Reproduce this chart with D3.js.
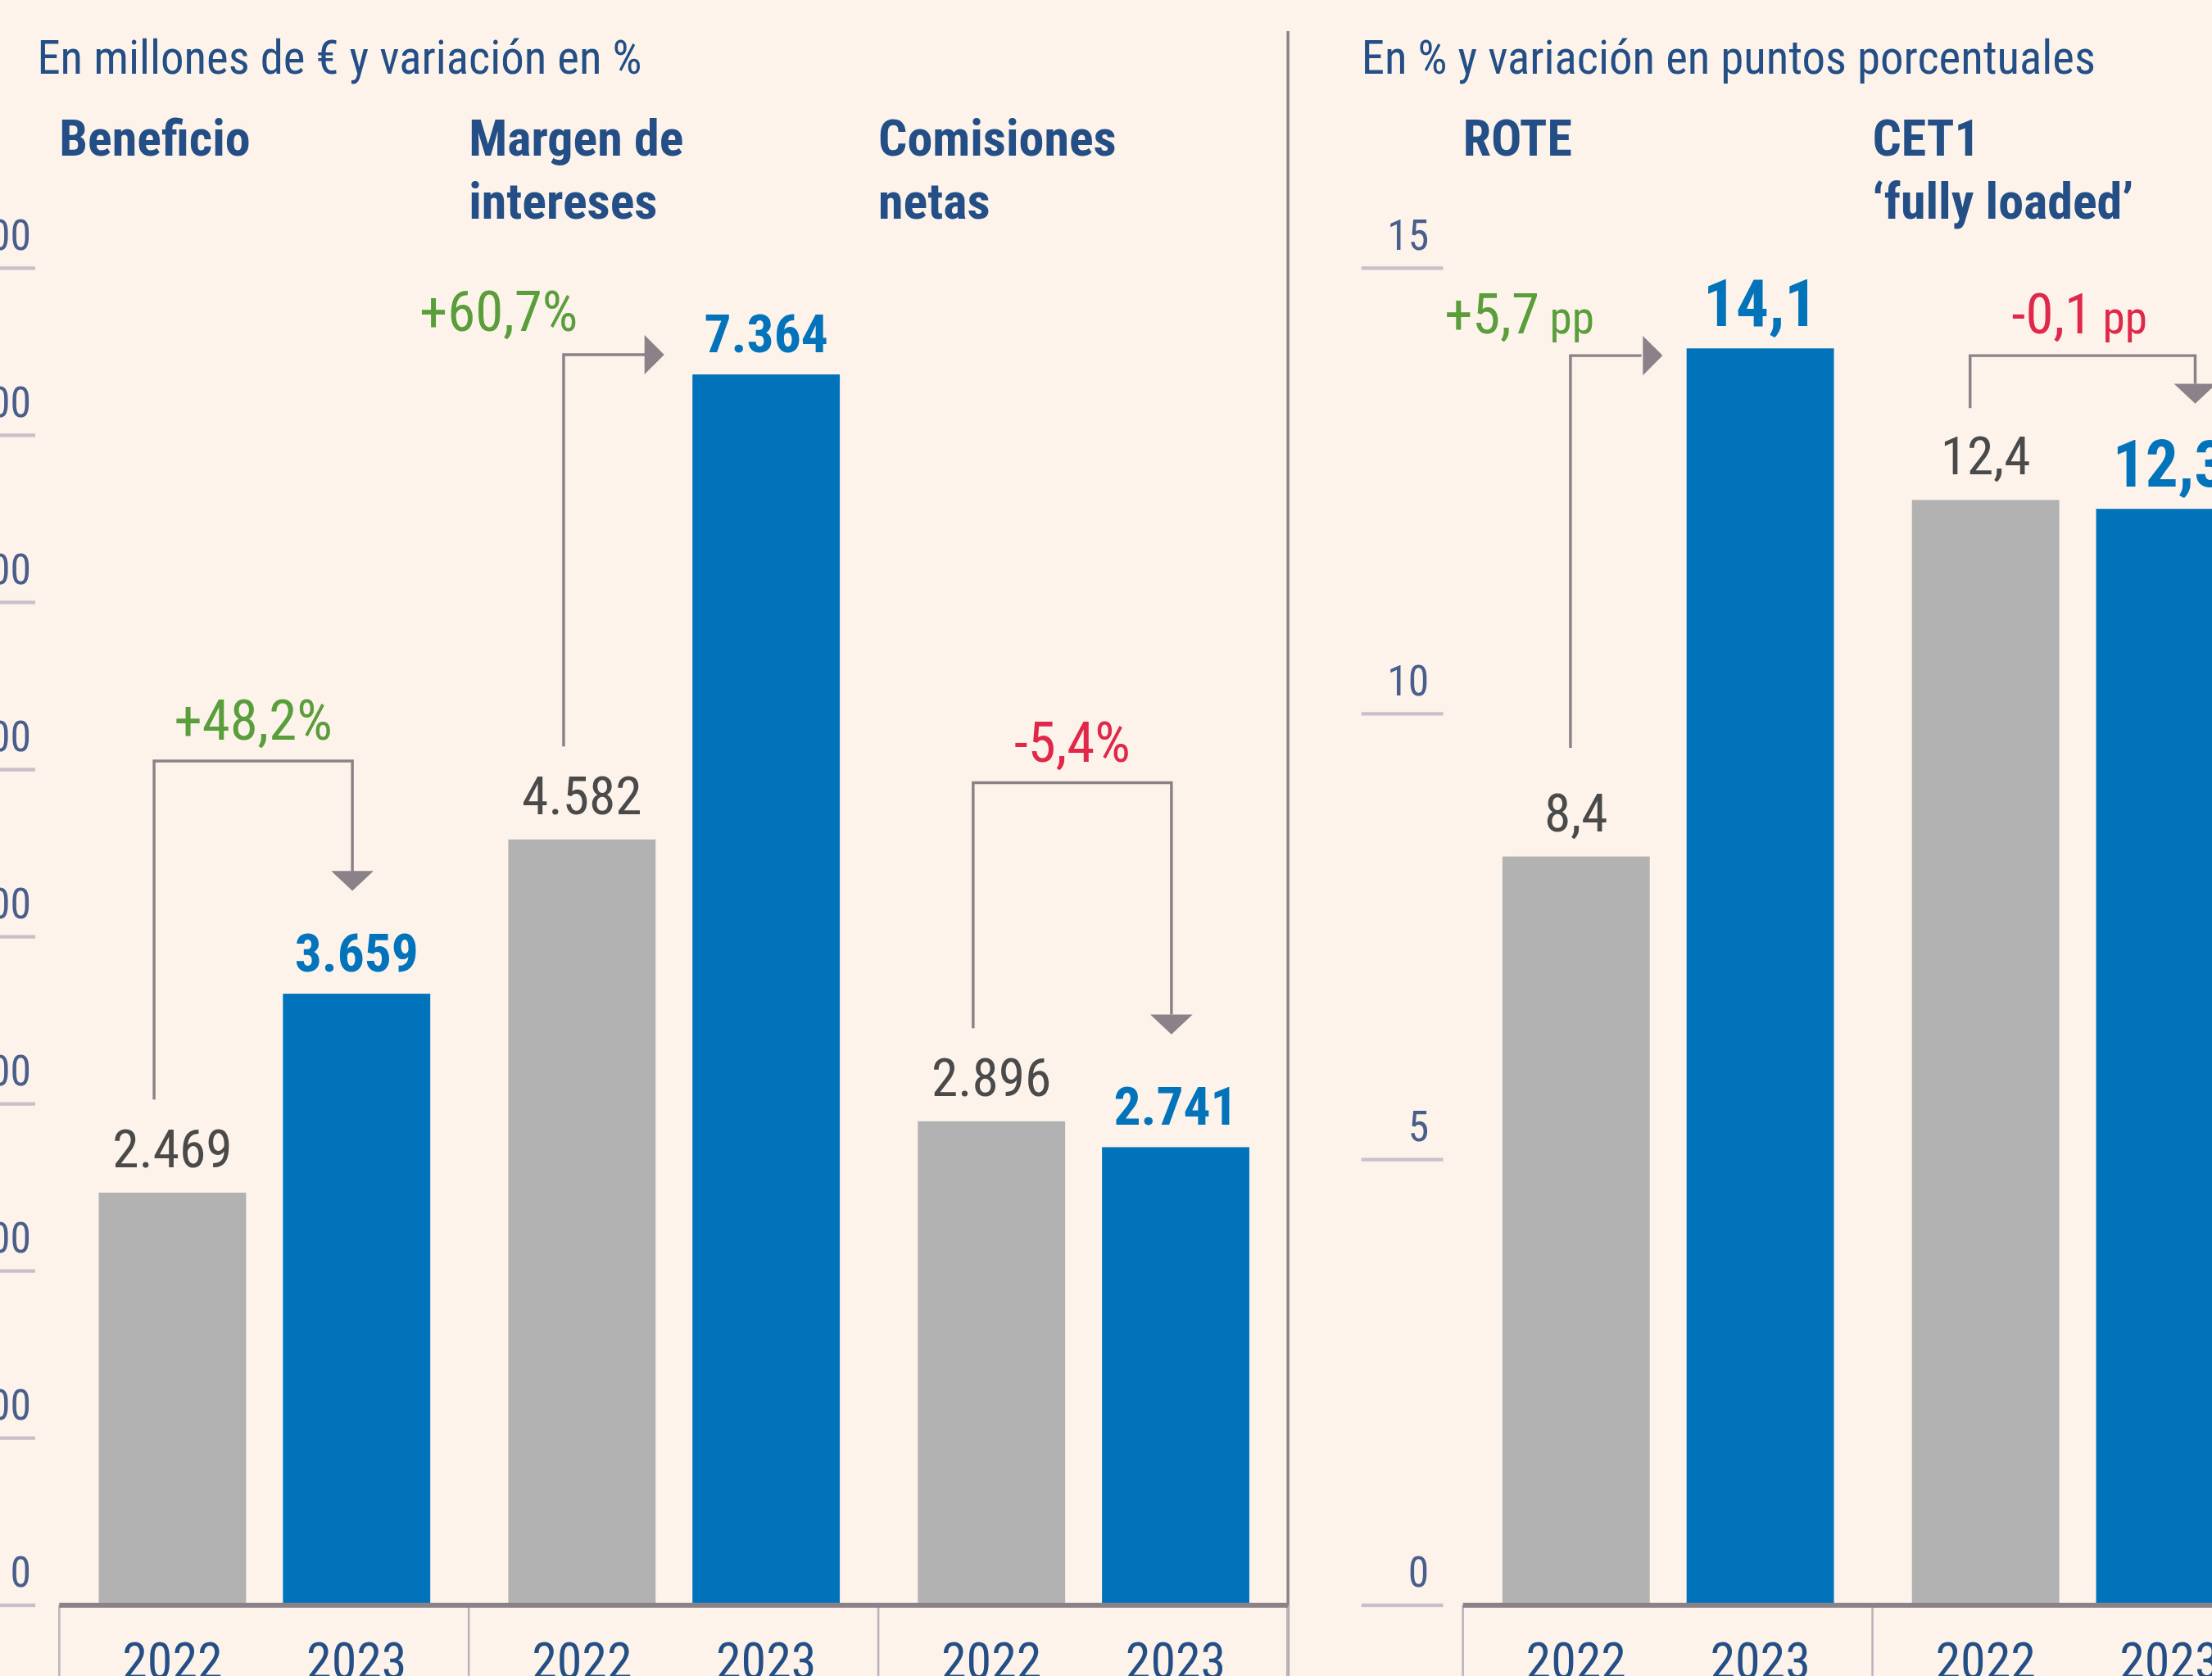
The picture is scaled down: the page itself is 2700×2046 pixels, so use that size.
<!DOCTYPE html>
<html><head><meta charset="utf-8">
<script src="https://cdn.jsdelivr.net/npm/d3@7"></script>
<style>html,body{margin:0;padding:0;background:#fdf3ea;overflow:hidden}</style>
</head><body>
<svg id="c" width="2700" height="2046" viewBox="0 0 1568 1188"></svg>
<script>
const years = ["2022","2023"];
const leftCats = ["Beneficio","Margen de intereses","Comisiones netas"];
const leftTitles = [["Beneficio"],["Margen de","intereses"],["Comisiones","netas"]];
const leftVals = {"Beneficio":[2469,3659],"Margen de intereses":[4582,7364],"Comisiones netas":[2896,2741]};
const leftLabels = {"Beneficio":["2.469","3.659"],"Margen de intereses":["4.582","7.364"],"Comisiones netas":["2.896","2.741"]};
const leftChange = ["+48,2%","+60,7%","-5,4%"];
const leftTicks = [0,1000,2000,3000,4000,5000,6000,7000,8000];
const rightCats = ["ROTE","CET1"];
const rightTitles = [["ROTE"],["CET1","‘fully loaded’"]];
const rightVals = {"ROTE":[8.4,14.1],"CET1":[12.4,12.3]};
const rightLabels = {"ROTE":["8,4","14,1"],"CET1":["12,4","12,3"]};
const rightChange = [["+5,7"," pp"],["-0,1"," pp"]];
const rightTicks = [0,5,10,15];

const svg = d3.select("#c");
const FONT = "'Liberation Sans Narrow','Roboto Condensed','Roboto',sans-serif";
const NAVY="#234e86", BLUE="#0073bb", GRAY="#b2b2b2", LINE="#8a8288", GREEN="#5a9e3c", RED="#e0284a";
svg.append("rect").attr("width",1568).attr("height",1188).attr("fill","#fdf3ea");
const BASE = 1138, TOPPX = 190;

svg.append("line").attr("x1",913).attr("x2",913).attr("y1",22).attr("y2",1188).attr("stroke",LINE).attr("stroke-width",2);

svg.append("text").attr("x",455).attr("y",52).attr("text-anchor","end").attr("font-family",FONT).attr("font-size",33).attr("fill",NAVY).text("En millones de € y variación en %");
svg.append("text").attr("x",965).attr("y",52).attr("font-family",FONT).attr("font-size",33).attr("fill",NAVY).text("En % y variación en puntos porcentuales");

function arrowDown(g,x,y){g.append("path").attr("d",`M${x-15},${y-14}L${x+15},${y-14}L${x},${y}Z`).attr("fill",LINE);}
function arrowRight(g,x,y){g.append("path").attr("d",`M${x-14},${y-14}L${x-14},${y+14}L${x},${y}Z`).attr("fill",LINE);}

function panel(opts){
  const {cats,titles,vals,labels,ticks,x0,tickX0,tickX1,labX,fmt,domMax,bigSize,change} = opts;
  const y = d3.scaleLinear().domain([0,domMax]).range([BASE,TOPPX]);
  const gx = d3.scaleBand().domain(cats).range([x0,x0+290.3*cats.length]);
  const ix = d3.scaleBand().domain(years).range([28,263]).paddingInner(0.2);
  const g = svg.append("g");
  ticks.forEach(t=>{
    g.append("line").attr("x1",tickX0).attr("x2",tickX1).attr("y1",y(t)).attr("y2",y(t)).attr("stroke","#c9bfcb").attr("stroke-width",2.5);
    g.append("text").attr("x",labX).attr("y",y(t)-13).attr("text-anchor","end").attr("font-family",FONT).attr("font-size",30).attr("fill","#4a5e8c").text(fmt(t));
  });
  cats.forEach((c,i)=>{
    const gx0 = gx(c);
    titles[i].forEach((l,k)=>g.append("text").attr("x",gx0).attr("y",110+k*45).attr("font-family",FONT).attr("font-weight","bold").attr("font-size",36).attr("fill",NAVY).text(l));
    years.forEach((yr,j)=>{
      const v = vals[c][j], bx = gx0+ix(yr), bw = ix.bandwidth();
      g.append("rect").attr("x",bx).attr("y",y(v)).attr("width",bw).attr("height",BASE-y(v)).attr("fill",j?BLUE:GRAY);
      g.append("text").attr("x",bx+bw/2).attr("y",y(v)-(j?16:18)).attr("text-anchor","middle").attr("font-family",FONT)
        .attr("font-weight",j?"bold":"normal").attr("font-size",j?bigSize:38).attr("fill",j?BLUE:"#4a4a4a").text(labels[c][j]);
      g.append("text").attr("x",bx+bw/2).attr("y",1190).attr("text-anchor","middle").attr("font-family",FONT).attr("font-size",36).attr("fill",NAVY).text(yr);
    });
    g.append("line").attr("x1",gx0).attr("x2",gx0).attr("y1",BASE).attr("y2",1188).attr("stroke","#bdb3bd").attr("stroke-width",1.5);
    change(g,c,i,gx0,ix,y);
  });
  const xEnd = x0+290.3*cats.length;
  g.append("line").attr("x1",xEnd).attr("x2",xEnd).attr("y1",BASE).attr("y2",1188).attr("stroke","#bdb3bd").attr("stroke-width",1.5);
  g.append("line").attr("x1",x0).attr("x2",Math.min(xEnd,1568)).attr("y1",BASE).attr("y2",BASE).attr("stroke",LINE).attr("stroke-width",3.5);
}

const thous = d3.formatLocale({decimal:",",thousands:".",grouping:[3],currency:["","€"]}).format(",d");

panel({cats:leftCats,titles:leftTitles,vals:leftVals,labels:leftLabels,ticks:leftTicks,x0:42,tickX0:-10,tickX1:25,labX:22,fmt:thous,domMax:8000,bigSize:38,
  change:(g,c,i,gx0,ix,y)=>{
    const cx0 = gx0+ix("2022")+ix.bandwidth()/2-13, cx1 = gx0+ix("2023")+ix.bandwidth()/2-3;
    const v0=leftVals[c][0], v1=leftVals[c][1];
    const col = leftChange[i][0]==="+"?GREEN:RED;
    if(i===1){
      const yTop = y(v1)-14;
      g.append("path").attr("d",`M${cx0},${y(v0)-66}V${yTop}H${gx0+ix("2023")-22}`).attr("stroke",LINE).attr("stroke-width",2).attr("fill","none");
      arrowRight(g,gx0+ix("2023")-20,yTop);
      g.append("text").attr("x",cx0-46).attr("y",yTop-17).attr("text-anchor","middle").attr("font-family",FONT).attr("font-size",40).attr("fill",col).text(leftChange[i]);
    } else {
      const yTop = Math.min(y(v0),y(v1)) - (i===0?165:240);
      g.append("path").attr("d",`M${cx0},${y(v0)-66}V${yTop}H${cx1}V${y(v1)-(i===0?86:94)}`).attr("stroke",LINE).attr("stroke-width",2).attr("fill","none");
      arrowDown(g,cx1,y(v1)-(i===0?73:80));
      g.append("text").attr("x",(cx0+cx1)/2).attr("y",yTop-15).attr("text-anchor","middle").attr("font-family",FONT).attr("font-size",40).attr("fill",col).text(leftChange[i]);
    }
  }});

panel({cats:rightCats,titles:rightTitles,vals:rightVals,labels:rightLabels,ticks:rightTicks,x0:1037,tickX0:965,tickX1:1023,labX:1013,fmt:d=>d,domMax:15,bigSize:46,
  change:(g,c,i,gx0,ix,y)=>{
    const cx0 = gx0+ix("2022")+ix.bandwidth()/2+(i===0?-4:-11), cx1 = gx0+ix("2023")+ix.bandwidth()/2+15;
    const v0=rightVals[c][0];
    const col = rightChange[i][0][0]==="+"?GREEN:RED;
    const yTop = 252;
    let d;
    if(i===0){ d=`M${cx0},${y(v0)-77}V${yTop}H${gx0+ix("2023")-32}`; arrowRight(g,gx0+ix("2023")-17,yTop); }
    else { d=`M${cx0},${y(v0)-65}V${yTop}H${cx1+3}V${272}`; arrowDown(g,cx1+3,286); }
    g.append("path").attr("d",d).attr("stroke",LINE).attr("stroke-width",2).attr("fill","none");
    const t = g.append("text").attr("x",i===0?1077:1474).attr("y",236).attr("text-anchor","middle").attr("font-family",FONT).attr("font-size",40).attr("fill",col);
    t.append("tspan").text(rightChange[i][0]);
    t.append("tspan").attr("font-size",32).text(rightChange[i][1]);
  }});
</script>
</body></html>
